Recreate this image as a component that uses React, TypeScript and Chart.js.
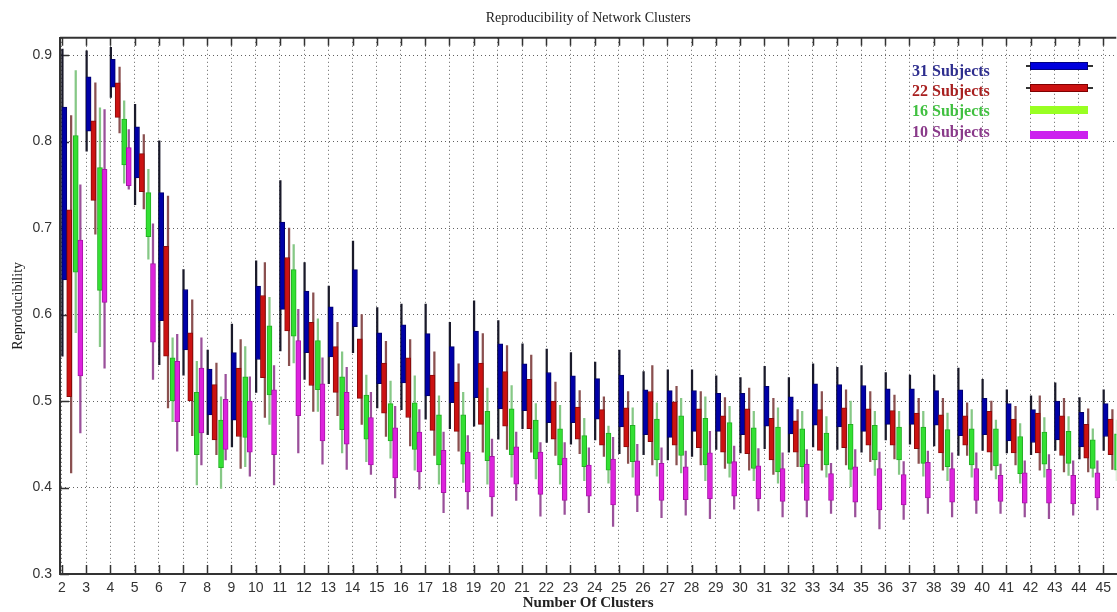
import React, { useEffect, useRef } from "react";
import { Chart, registerables } from "chart.js";

Chart.register(...registerables);

// Number of clusters (categories)
const clusters = [2, 3, 4, 5, 6, 7, 8, 9, 10, 11, 12, 13, 14, 15, 16, 17, 18, 19, 20, 21, 22, 23, 24, 25, 26, 27, 28, 29, 30, 31, 32, 33, 34, 35, 36, 37, 38, 39, 40, 41, 42, 43, 44, 45];

// 31 Subjects (blue)
const s31BoxHigh = [0.840, 0.875, 0.895, 0.817, 0.741, 0.629, 0.537, 0.556, 0.633, 0.707, 0.627, 0.609, 0.652, 0.579, 0.588, 0.578, 0.563, 0.581, 0.566, 0.543, 0.533, 0.529, 0.526, 0.530, 0.513, 0.512, 0.512, 0.509, 0.509, 0.517, 0.505, 0.520, 0.519, 0.518, 0.514, 0.514, 0.512, 0.513, 0.503, 0.497, 0.490, 0.500, 0.487, 0.497];
const s31BoxLow = [0.640, 0.812, 0.863, 0.758, 0.593, 0.559, 0.484, 0.478, 0.548, 0.606, 0.556, 0.551, 0.586, 0.520, 0.521, 0.506, 0.498, 0.504, 0.491, 0.489, 0.475, 0.475, 0.479, 0.470, 0.461, 0.458, 0.465, 0.465, 0.461, 0.471, 0.462, 0.472, 0.470, 0.465, 0.473, 0.473, 0.472, 0.460, 0.461, 0.454, 0.452, 0.455, 0.447, 0.459];
const s31Max = [0.907, 0.905, 0.909, 0.843, 0.801, 0.652, 0.559, 0.589, 0.662, 0.755, 0.660, 0.633, 0.685, 0.608, 0.612, 0.612, 0.591, 0.616, 0.593, 0.566, 0.560, 0.556, 0.545, 0.559, 0.534, 0.536, 0.536, 0.529, 0.527, 0.540, 0.527, 0.543, 0.539, 0.541, 0.533, 0.530, 0.530, 0.538, 0.525, 0.513, 0.506, 0.521, 0.504, 0.513];
const s31Min = [0.552, 0.789, 0.851, 0.727, 0.542, 0.530, 0.461, 0.447, 0.510, 0.558, 0.525, 0.520, 0.556, 0.492, 0.490, 0.479, 0.468, 0.471, 0.456, 0.468, 0.452, 0.450, 0.455, 0.439, 0.438, 0.432, 0.436, 0.444, 0.440, 0.445, 0.441, 0.447, 0.444, 0.441, 0.455, 0.450, 0.448, 0.437, 0.443, 0.440, 0.438, 0.443, 0.433, 0.443];

// 22 Subjects (red)
const s22BoxHigh = [0.721, 0.824, 0.868, 0.786, 0.679, 0.579, 0.519, 0.538, 0.622, 0.666, 0.591, 0.563, 0.572, 0.544, 0.550, 0.530, 0.522, 0.544, 0.534, 0.525, 0.500, 0.493, 0.490, 0.492, 0.511, 0.499, 0.491, 0.483, 0.491, 0.480, 0.477, 0.490, 0.492, 0.491, 0.489, 0.486, 0.484, 0.483, 0.488, 0.479, 0.486, 0.483, 0.473, 0.479];
const s22BoxLow = [0.505, 0.732, 0.828, 0.742, 0.552, 0.500, 0.455, 0.459, 0.527, 0.581, 0.518, 0.510, 0.503, 0.486, 0.481, 0.466, 0.465, 0.473, 0.471, 0.468, 0.456, 0.456, 0.449, 0.447, 0.453, 0.449, 0.446, 0.441, 0.439, 0.432, 0.441, 0.443, 0.446, 0.449, 0.449, 0.445, 0.440, 0.449, 0.441, 0.440, 0.440, 0.437, 0.434, 0.438];
const s22Max = [0.830, 0.868, 0.886, 0.808, 0.737, 0.617, 0.544, 0.571, 0.660, 0.700, 0.625, 0.591, 0.600, 0.569, 0.571, 0.557, 0.543, 0.578, 0.564, 0.553, 0.522, 0.512, 0.505, 0.511, 0.541, 0.517, 0.511, 0.504, 0.515, 0.503, 0.490, 0.511, 0.513, 0.511, 0.507, 0.503, 0.503, 0.498, 0.500, 0.494, 0.506, 0.503, 0.491, 0.490];
const s22Min = [0.417, 0.693, 0.810, 0.722, 0.492, 0.460, 0.438, 0.422, 0.481, 0.541, 0.488, 0.483, 0.473, 0.459, 0.448, 0.437, 0.442, 0.441, 0.444, 0.441, 0.437, 0.439, 0.436, 0.428, 0.426, 0.426, 0.426, 0.422, 0.420, 0.415, 0.424, 0.420, 0.426, 0.430, 0.433, 0.428, 0.420, 0.437, 0.420, 0.426, 0.420, 0.418, 0.418, 0.421];

// 16 Subjects (green)
const s16BoxHigh = [0.807, 0.770, 0.826, 0.741, 0.550, 0.510, 0.478, 0.528, 0.587, 0.652, 0.570, 0.528, 0.507, 0.497, 0.498, 0.484, 0.484, 0.488, 0.491, 0.478, 0.468, 0.460, 0.463, 0.472, 0.479, 0.483, 0.480, 0.475, 0.469, 0.470, 0.468, 0.463, 0.473, 0.472, 0.470, 0.470, 0.467, 0.468, 0.468, 0.459, 0.464, 0.465, 0.455, 0.462];
const s16BoxLow = [0.649, 0.628, 0.773, 0.690, 0.500, 0.438, 0.423, 0.458, 0.507, 0.575, 0.513, 0.467, 0.456, 0.454, 0.444, 0.426, 0.427, 0.431, 0.438, 0.433, 0.426, 0.424, 0.420, 0.430, 0.432, 0.437, 0.426, 0.428, 0.422, 0.418, 0.424, 0.426, 0.421, 0.432, 0.432, 0.428, 0.424, 0.426, 0.425, 0.416, 0.427, 0.428, 0.422, 0.420];
const s16Max = [0.882, 0.839, 0.847, 0.768, 0.573, 0.546, 0.505, 0.563, 0.620, 0.681, 0.595, 0.557, 0.530, 0.523, 0.529, 0.506, 0.510, 0.515, 0.518, 0.497, 0.495, 0.480, 0.471, 0.492, 0.498, 0.503, 0.505, 0.494, 0.488, 0.492, 0.488, 0.482, 0.500, 0.488, 0.488, 0.488, 0.486, 0.490, 0.478, 0.474, 0.481, 0.482, 0.468, 0.478];
const s16Min = [0.579, 0.563, 0.752, 0.664, 0.476, 0.403, 0.399, 0.424, 0.473, 0.544, 0.488, 0.440, 0.430, 0.434, 0.420, 0.404, 0.406, 0.404, 0.412, 0.410, 0.404, 0.408, 0.405, 0.412, 0.413, 0.417, 0.408, 0.412, 0.408, 0.405, 0.405, 0.412, 0.401, 0.414, 0.415, 0.413, 0.408, 0.412, 0.410, 0.405, 0.412, 0.414, 0.412, 0.408];

// 10 Subjects (magenta)
const s10BoxHigh = [0.686, 0.768, 0.793, 0.659, 0.546, 0.538, 0.502, 0.500, 0.513, 0.570, 0.520, 0.510, 0.481, 0.469, 0.464, 0.443, 0.441, 0.436, 0.447, 0.441, 0.434, 0.426, 0.433, 0.431, 0.428, 0.424, 0.440, 0.430, 0.425, 0.422, 0.427, 0.416, 0.424, 0.422, 0.415, 0.429, 0.422, 0.422, 0.414, 0.417, 0.421, 0.414, 0.417, 0.415];
const s10BoxLow = [0.529, 0.614, 0.749, 0.568, 0.476, 0.463, 0.444, 0.441, 0.438, 0.483, 0.454, 0.450, 0.426, 0.411, 0.418, 0.394, 0.395, 0.389, 0.404, 0.392, 0.385, 0.390, 0.380, 0.391, 0.385, 0.386, 0.387, 0.390, 0.387, 0.384, 0.385, 0.385, 0.383, 0.374, 0.380, 0.388, 0.383, 0.385, 0.384, 0.382, 0.382, 0.381, 0.388, 0.380];
const s10Max = [0.750, 0.837, 0.814, 0.705, 0.577, 0.573, 0.531, 0.528, 0.541, 0.606, 0.550, 0.539, 0.510, 0.494, 0.490, 0.464, 0.460, 0.456, 0.464, 0.452, 0.452, 0.446, 0.458, 0.450, 0.446, 0.442, 0.465, 0.448, 0.445, 0.440, 0.444, 0.428, 0.444, 0.441, 0.430, 0.442, 0.440, 0.440, 0.427, 0.431, 0.438, 0.431, 0.431, 0.430];
const s10Min = [0.463, 0.538, 0.745, 0.525, 0.442, 0.426, 0.432, 0.413, 0.403, 0.440, 0.427, 0.421, 0.415, 0.388, 0.398, 0.371, 0.375, 0.367, 0.385, 0.367, 0.369, 0.371, 0.355, 0.372, 0.365, 0.368, 0.364, 0.375, 0.373, 0.366, 0.366, 0.370, 0.366, 0.352, 0.363, 0.370, 0.366, 0.370, 0.370, 0.366, 0.364, 0.368, 0.374, 0.365];

const yTickValues = [0.3, 0.4, 0.5, 0.6, 0.7, 0.8, 0.9];

const series = [
  { label: "31 Subjects", high: s31BoxHigh, low: s31BoxLow, max: s31Max, min: s31Min, fill: "#0000a8", edge: "#00006a", whisker: "#1a1a2a", boxOffset: 0.10, whiskerOffset: 0.02, order: 4 },
  { label: "22 Subjects", high: s22BoxHigh, low: s22BoxLow, max: s22Max, min: s22Min, fill: "#cc1212", edge: "#8a0a0a", whisker: "#8a5050", boxOffset: 0.30, whiskerOffset: 0.38, order: 3 },
  { label: "16 Subjects", high: s16BoxHigh, low: s16BoxLow, max: s16Max, min: s16Min, fill: "#33e033", edge: "#22b022", whisker: "#86c886", boxOffset: 0.57, whiskerOffset: 0.57, order: 2 },
  { label: "10 Subjects", high: s10BoxHigh, low: s10BoxLow, max: s10Max, min: s10Min, fill: "#dd22dd", edge: "#a815a8", whisker: "#9a509a", boxOffset: 0.76, whiskerOffset: 0.76, order: 1 },
];

const legendItems = [
  { text: "31 Subjects", color: "#2e2e8e", sample: "#0000dd", edge: "#000080", whisker: true, top: 62, sampleTop: 62 },
  { text: "22 Subjects", color: "#a82020", sample: "#cc1111", edge: "#800000", whisker: true, top: 82, sampleTop: 84 },
  { text: "16 Subjects", color: "#40c040", sample: "#99ff22", edge: "#99ff22", whisker: false, top: 102, sampleTop: 106 },
  { text: "10 Subjects", color: "#8a3a8a", sample: "#cc22ee", edge: "#cc22ee", whisker: false, top: 123, sampleTop: 131 },
];

const innerTicks = {
  id: "innerTicks",
  beforeDatasetsDraw(chart: any) {
    const { ctx, chartArea, scales } = chart;
    const { left, right, top, bottom } = chartArea;
    const x = scales.x;
    const y = scales.y;
    ctx.save();
    ctx.strokeStyle = "#333";
    ctx.lineWidth = 1.5;
    ctx.beginPath();
    x.ticks.forEach((t: any) => {
      const px = Math.round(x.getPixelForValue(t.value)) + 0.5;
      ctx.moveTo(px, bottom);
      ctx.lineTo(px, bottom - 9);
      ctx.moveTo(px, top);
      ctx.lineTo(px, top + 8);
    });
    y.ticks.forEach((t: any) => {
      const py = Math.round(y.getPixelForValue(t.value)) + 0.5;
      ctx.moveTo(left, py);
      ctx.lineTo(left + 9, py);
    });
    ctx.stroke();
    ctx.lineWidth = 2;
    ctx.beginPath();
    ctx.moveTo(left, top);
    ctx.lineTo(right, top);
    ctx.stroke();
    ctx.restore();
  },
};

export default function App() {
  const canvasRef = useRef<HTMLCanvasElement | null>(null);

  useEffect(() => {
    if (!canvasRef.current) return;
    const datasets: any[] = [];
    series.forEach((s) => {
      datasets.push({
        type: "bar",
        label: s.label + " range",
        data: clusters.map((c, i) => ({ x: c + s.whiskerOffset, y: [s.min[i], s.max[i]] })),
        backgroundColor: s.whisker,
        borderWidth: 0,
        barThickness: 1.6,
        grouped: false,
        order: 10 + s.order,
      });
    });
    series.forEach((s) => {
      datasets.push({
        type: "bar",
        label: s.label,
        data: clusters.map((c, i) => ({ x: c + s.boxOffset, y: [s.low[i], s.high[i]] })),
        backgroundColor: s.fill,
        borderColor: s.edge,
        borderWidth: 1,
        borderSkipped: false,
        barThickness: 5,
        grouped: false,
        order: s.order,
      });
    });

    const chart = new Chart(canvasRef.current, {
      type: "bar",
      data: { datasets },
      plugins: [innerTicks],
      options: {
        responsive: false,
        animation: false,
        layout: { padding: 0 },
        plugins: {
          legend: { display: false },
          tooltip: { enabled: false },
          title: {
            display: true,
            text: "Reproducibility of Network Clusters",
            fullSize: false,
            color: "#222",
            font: { family: "'Liberation Serif', 'Times New Roman', serif", size: 14, weight: "normal" },
            padding: { top: 10, bottom: 11 },
          },
        },
        scales: {
          x: {
            type: "linear",
            min: 1.92,
            max: 45.54,
            offset: false,
            afterFit: (scale: any) => {
              scale.height = 38;
            },
            ticks: {
              stepSize: 1,
              autoSkip: false,
              maxRotation: 0,
              includeBounds: false,
              padding: 6,
              color: "#333",
              font: { family: "'Liberation Sans', Arial, sans-serif", size: 14 },
              callback: (v: any) => String(v),
            },
            grid: { display: true, offset: false, drawTicks: false, color: "rgba(70,70,70,0.85)", lineWidth: 1 },
            border: { display: true, color: "#333", width: 2, dash: [1, 3] },
            title: {
              display: true,
              text: "Number Of Clusters",
              color: "#222",
              font: { family: "'Liberation Serif', 'Times New Roman', serif", size: 15, weight: "bold" },
              padding: { top: 0, bottom: 0 },
            },
          },
          y: {
            type: "linear",
            min: 0.3,
            max: 0.92,
            afterFit: (scale: any) => {
              scale.width = 60;
            },
            afterBuildTicks: (scale: any) => {
              scale.ticks = yTickValues.map((v) => ({ value: v }));
            },
            ticks: {
              padding: 8,
              color: "#333",
              font: { family: "'Liberation Sans', Arial, sans-serif", size: 14 },
              callback: (v: any) => Number(v).toFixed(1),
            },
            grid: { display: true, drawTicks: false, color: "rgba(70,70,70,0.85)", lineWidth: 1 },
            border: { display: true, color: "#333", width: 2, dash: [1, 3] },
            title: {
              display: true,
              text: "Reproducibility",
              color: "#222",
              font: { family: "'Liberation Serif', 'Times New Roman', serif", size: 14, weight: "normal" },
              padding: { top: 10, bottom: 0 },
            },
          },
        },
      },
    } as any);
    return () => chart.destroy();
  }, []);

  return (
    <div style={{ position: "absolute", left: 0, top: 0, width: 1117, height: 612, background: "#fff", overflow: "hidden" }}>
      <canvas ref={canvasRef} width={1117} height={612} style={{ width: 1117, height: 612, display: "block" }} />
      {legendItems.map((it) => (
        <React.Fragment key={it.text}>
          <div
            style={{
              position: "absolute",
              left: 912,
              top: it.top,
              fontFamily: "'Liberation Serif', 'Times New Roman', serif",
              fontWeight: "bold",
              fontSize: 16,
              lineHeight: "18px",
              color: it.color,
              whiteSpace: "nowrap",
            }}
          >
            {it.text}
          </div>
          {it.whisker && (
            <div style={{ position: "absolute", left: 1026, top: it.sampleTop + 3, width: 67, height: 1.5, background: "#333" }} />
          )}
          <div
            style={{
              position: "absolute",
              left: 1030,
              top: it.sampleTop,
              width: 58,
              height: 8,
              background: it.sample,
              boxSizing: "border-box",
              border: `1px solid ${it.edge}`,
            }}
          />
        </React.Fragment>
      ))}
    </div>
  );
}
